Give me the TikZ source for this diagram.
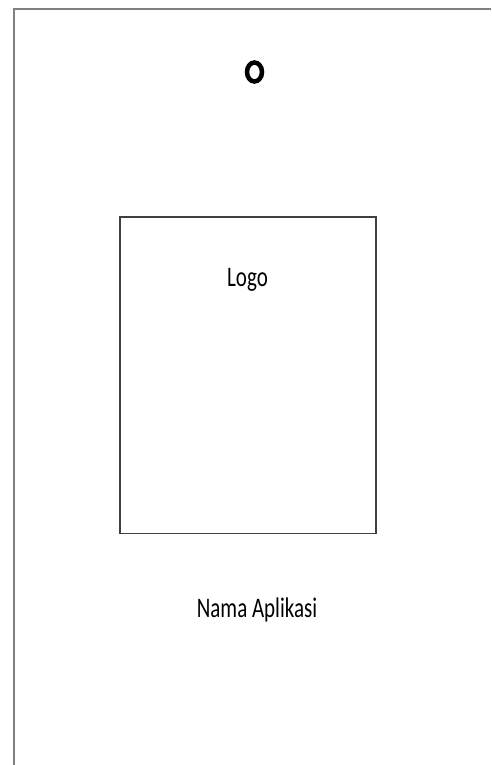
\documentclass[tikz,border=0pt]{standalone}
\usepackage{fontspec}
\setmainfont{Carlito}
\usetikzlibrary{positioning}

\begin{document}
\begin{tikzpicture}[x=1pt, y=-1pt,
    screentext/.style={font=\fontsize{21}{25}\selectfont, anchor=base, yscale=1.35, inner sep=0pt}]
    \useasboundingbox (0,0) rectangle (491,765);

    % Screen edge
    \draw[black!50, line width=2pt] (491,9.5) -- (14.3,9.5) -- (14.3,765);

    % Loading ring
    \draw[line width=4.5pt] (254.5,72) ellipse [x radius=7.5, y radius=9.5];

    % Logo box
    \node[draw=black!75, line width=1.5pt, minimum width=256pt, minimum height=316.5pt,
          inner sep=0pt] (logobox) at (247.75,375.25) {};
    \node[screentext] (logo) at (247.5,286) {Logo};

    % App name
    \node[screentext] (appname) at (257,617) {Nama Aplikasi};
\end{tikzpicture}
\end{document}
